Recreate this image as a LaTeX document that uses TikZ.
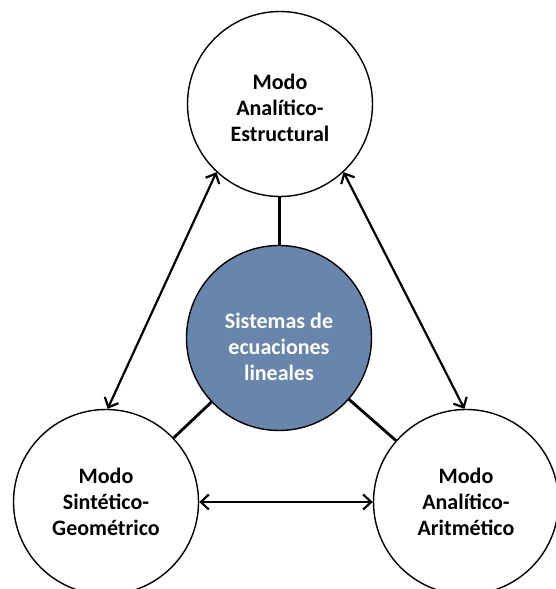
\documentclass[tikz,border=0pt]{standalone}
\usepackage{fontspec}
\setmainfont{Carlito}
\usepackage{xcolor}
\usepackage{tikz}
\usetikzlibrary{positioning,shapes,arrows,arrows.meta,calc}

\definecolor{sysblue}{RGB}{104,134,171}

\begin{document}
\begin{tikzpicture}[x=1pt, y=1pt,
    mode/.style={circle, draw, line width=1.4pt, fill=white, minimum size=185pt, inner sep=0pt, align=center, font=\fontsize{22}{26}\selectfont\bfseries},
    core/.style={mode, fill=sysblue, text=white},
    link/.style={line width=2.8pt},
    rel/.style={{Straight Barb[length=8pt,width=15pt]}-{Straight Barb[length=8pt,width=15pt]}, line width=2.2pt}]
    \useasboundingbox (0,0) rectangle (556,589);

    \node[mode] (estr) at (280,485) {\mbox{}\\[-2pt]Modo\\Analítico-\\Estructural};
    \node[core] (sis) at (279,251) {\mbox{}\\[8pt]Sistemas de\\ecuaciones\\lineales};
    \node[mode] (geom) at (106,87) {Modo\\Sintético-\\Geométrico};
    \node[mode] (arit) at (466,87) {Modo\\Analítico-\\Aritmético};

    \draw[link] (sis) -- (estr);
    \draw[link] (sis) -- (geom);
    \draw[link] (sis) -- (arit);

    \draw[rel] (estr.227) -- (geom.89);
    \draw[rel] (estr.313) -- (arit.91);
    \draw[rel] (geom.east) -- (arit.west);
\end{tikzpicture}
\end{document}
